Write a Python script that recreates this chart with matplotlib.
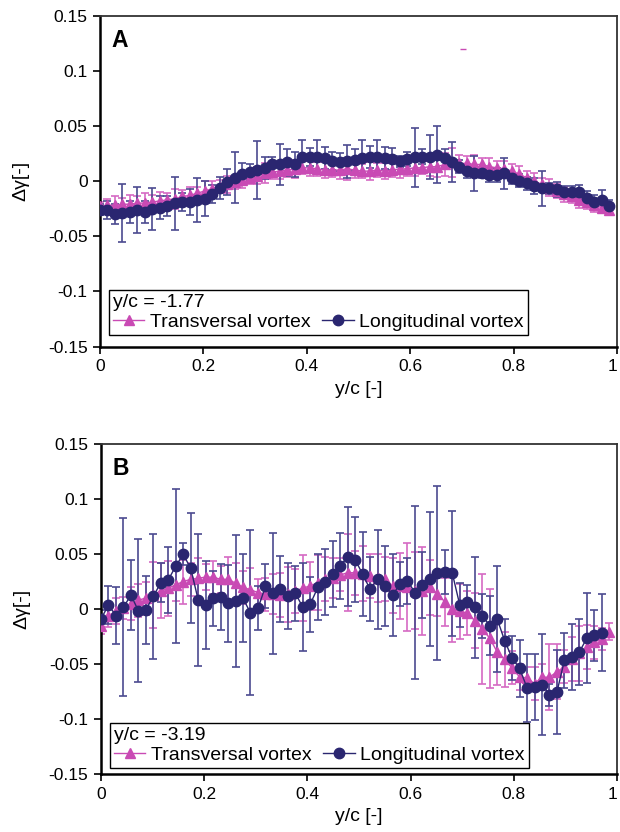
import numpy as np
import matplotlib
matplotlib.use("Agg")
import matplotlib.pyplot as plt

plt.rcParams['font.family'] = ['Liberation Sans', 'DejaVu Sans']

# Grille de positions (y/c)
x_a = np.linspace(0, 0.985, 69)
x_b_trans = np.linspace(0, 0.985, 69)
x_b_long = x_b_trans[:68]

# Panneau A : y/c = -1.77
a_trans = [-0.023, -0.022, -0.022, -0.021, -0.021, -0.020, -0.020, -0.019, -0.018, -0.017,
           -0.016, -0.014, -0.013, -0.011, -0.009, -0.007, -0.005, -0.003, -0.001, 0.001,
           0.003, 0.005, 0.007, 0.008, 0.009, 0.010, 0.011, 0.012, 0.012, 0.011,
           0.010, 0.010, 0.010, 0.011, 0.010, 0.009, 0.009, 0.010, 0.009, 0.010,
           0.011, 0.011, 0.012, 0.012, 0.013, 0.013, 0.015, 0.017, 0.016, 0.016,
           0.015, 0.015, 0.013, 0.012, 0.011, 0.009, 0.006, 0.003, 0.000, -0.003,
           -0.006, -0.009, -0.012, -0.014, -0.017, -0.019, -0.022, -0.024, -0.026]
a_trans_err = [0.004, 0.006, 0.008, 0.006, 0.008, 0.006, 0.009, 0.006, 0.008, 0.006,
               0.009, 0.006, 0.008, 0.006, 0.009, 0.007, 0.006, 0.008, 0.006, 0.007,
               0.006, 0.008, 0.009, 0.006, 0.007, 0.006, 0.008, 0.006, 0.007, 0.006,
               0.007, 0.006, 0.008, 0.010, 0.007, 0.006, 0.008, 0.006, 0.007, 0.006,
               0.008, 0.006, 0.007, 0.006, 0.008, 0.009, 0.010, 0.013, 0.008, 0.007,
               0.009, 0.006, 0.008, 0.006, 0.007, 0.006, 0.008, 0.006, 0.007, 0.006,
               0.008, 0.006, 0.007, 0.006, 0.007, 0.006, 0.006, 0.005, 0.005]
a_long = [-0.026, -0.026, -0.030, -0.029, -0.028, -0.026, -0.028, -0.025, -0.024, -0.023,
          -0.020, -0.019, -0.019, -0.017, -0.016, -0.012, -0.006, -0.001, 0.003, 0.006,
          0.008, 0.010, 0.012, 0.015, 0.015, 0.017, 0.015, 0.022, 0.022, 0.022,
          0.021, 0.018, 0.017, 0.018, 0.019, 0.021, 0.022, 0.022, 0.021, 0.020,
          0.018, 0.020, 0.0215, 0.022, 0.022, 0.024, 0.021, 0.017, 0.013, 0.009,
          0.007, 0.0075, 0.0055, 0.0055, 0.007, 0.0025, 0.0003, -0.002, -0.0045, -0.0067,
          -0.0067, -0.0076, -0.0097, -0.0097, -0.0097, -0.015, -0.019, -0.017, -0.023]
a_long_err = [0.005, 0.008, 0.009, 0.026, 0.010, 0.021, 0.010, 0.019, 0.010, 0.009,
              0.024, 0.008, 0.012, 0.020, 0.016, 0.008, 0.010, 0.012, 0.023, 0.010,
              0.007, 0.026, 0.010, 0.007, 0.019, 0.012, 0.011, 0.015, 0.008, 0.015,
              0.010, 0.008, 0.008, 0.015, 0.010, 0.016, 0.010, 0.015, 0.010, 0.010,
              0.005, 0.006, 0.027, 0.007, 0.020, 0.026, 0.008, 0.018, 0.006, 0.006,
              0.016, 0.005, 0.006, 0.006, 0.014, 0.005, 0.006, 0.006, 0.007, 0.016,
              0.005, 0.007, 0.005, 0.005, 0.006, 0.006, 0.006, 0.009, 0.006]
a_stray_x = [0.702]
a_stray_y = [0.12]

# Panneau B : y/c = -3.19
b_trans = [-0.015, -0.006, -0.002, 0.001, 0.005, 0.008, 0.010, 0.013, 0.0165, 0.019,
           0.022, 0.025, 0.027, 0.028, 0.029, 0.029, 0.027, 0.027, 0.0235, 0.0196,
           0.0175, 0.015, 0.0135, 0.0135, 0.0125, 0.0135, 0.0165, 0.019, 0.021, 0.024,
           0.027, 0.028, 0.031, 0.033, 0.033, 0.032, 0.030, 0.028, 0.027, 0.021,
           0.021, 0.0196, 0.0165, 0.0165, 0.0196, 0.0136, 0.0066, 0.000, -0.002, -0.0036,
           -0.0105, -0.018, -0.0265, -0.039, -0.0458, -0.0536, -0.0618, -0.0627, -0.068, -0.062,
           -0.062, -0.057, -0.0527, -0.045, -0.040, -0.0346, -0.030, -0.027, -0.0205]
b_trans_err = [0.008, 0.010, 0.012, 0.010, 0.015, 0.015, 0.015, 0.030, 0.025, 0.025,
               0.015, 0.020, 0.015, 0.018, 0.012, 0.015, 0.012, 0.020, 0.018, 0.015,
               0.020, 0.012, 0.015, 0.018, 0.020, 0.025, 0.020, 0.030, 0.022, 0.025,
               0.020, 0.018, 0.015, 0.035, 0.020, 0.025, 0.020, 0.022, 0.020, 0.025,
               0.030, 0.040, 0.035, 0.040, 0.025, 0.020, 0.022, 0.030, 0.025, 0.020,
               0.025, 0.050, 0.045, 0.030, 0.025, 0.015, 0.012, 0.010, 0.015, 0.012,
               0.030, 0.025, 0.015, 0.020, 0.025, 0.020, 0.015, 0.010, 0.008]
b_long = [-0.009, 0.0036, -0.006, 0.0015, 0.0127, -0.0015, -0.0006, 0.0115, 0.024, 0.0265,
          0.039, 0.0497, 0.037, 0.0084, 0.0036, 0.0097, 0.0106, 0.0054, 0.0075, 0.0097,
          -0.0036, 0.0006, 0.0205, 0.0145, 0.018, 0.0115, 0.0145, 0.0015, 0.0045, 0.0196,
          0.0247, 0.0316, 0.039, 0.0476, 0.045, 0.0316, 0.018, 0.027, 0.021, 0.0127,
          0.0226, 0.0256, 0.015, 0.0217, 0.027, 0.0325, 0.0337, 0.0325, 0.0036, 0.0066,
          0.0015, -0.006, -0.015, -0.009, -0.0287, -0.0446, -0.054, -0.0717, -0.0708, -0.0687,
          -0.0778, -0.0753, -0.0467, -0.0437, -0.039, -0.0265, -0.024, -0.0217]
b_long_err = [0.008, 0.017, 0.026, 0.081, 0.032, 0.065, 0.031, 0.057, 0.018, 0.030,
              0.070, 0.010, 0.050, 0.060, 0.040, 0.025, 0.030, 0.035, 0.060, 0.040,
              0.075, 0.020, 0.020, 0.055, 0.030, 0.030, 0.025, 0.040, 0.025, 0.030,
              0.030, 0.030, 0.030, 0.045, 0.039, 0.038, 0.029, 0.045, 0.036, 0.037,
              0.020, 0.021, 0.079, 0.030, 0.061, 0.079, 0.020, 0.057, 0.020, 0.015,
              0.046, 0.020, 0.027, 0.048, 0.020, 0.020, 0.026, 0.031, 0.030, 0.046,
              0.010, 0.038, 0.025, 0.030, 0.030, 0.041, 0.023, 0.035]

y_ticks = [-0.15, -0.1, -0.05, 0, 0.05, 0.1, 0.15]
y_tick_labels = ['-0.15', '-0.1', '-0.05', '0', '0.05', '0.1', '0.15']
x_ticks = [0, 0.2, 0.4, 0.6, 0.8, 1]
x_tick_labels = ['0', '0.2', '0.4', '0.6', '0.8', '1']

MAGENTA = '#C94AB4'
MAGENTA_ERR = '#D56AC4'
NAVY = '#2A2670'
NAVY_ERR = '#4C4A90'


def tracer_panneau(ax, x_t, t, t_err, x_l, l, l_err, lettre, titre_legende, legende_pos):
    ax.errorbar(x_t, t, yerr=t_err, fmt='none', ecolor=MAGENTA_ERR, elinewidth=1.2,
                capsize=3, capthick=1.2, zorder=2)
    ax.errorbar(x_l, l, yerr=l_err, fmt='none', ecolor=NAVY_ERR, elinewidth=1.2,
                capsize=3, capthick=1.2, zorder=2)
    ax.plot(x_t, t, color=MAGENTA, marker='^', markersize=7, lw=1,
            label='Transversal vortex', zorder=3)
    ax.plot(x_l, l, color=NAVY, marker='o', markersize=7.5, lw=1,
            label='Longitudinal vortex', zorder=4)

    ax.set_xlim(0, 1)
    ax.set_ylim(-0.15, 0.15)
    ax.set_xticks(x_ticks)
    ax.set_xticklabels(x_tick_labels)
    ax.get_xticklabels()[-1].set_horizontalalignment('right')
    ax.set_yticks(y_ticks)
    ax.set_yticklabels(y_tick_labels)
    ax.tick_params(direction='out', length=5, width=1.2, labelsize=12.5, pad=4)
    ax.set_xlabel('y/c [-]', fontsize=14, labelpad=5)
    ax.set_ylabel('Δγ[-]', fontsize=14, labelpad=13)
    for s in ['left', 'bottom']:
        ax.spines[s].set_linewidth(1.8)
        ax.spines[s].set_color('black')
    for s in ['top', 'right']:
        ax.spines[s].set_linewidth(1.3)
        ax.spines[s].set_color('#333333')

    ax.text(0.022, 0.96, lettre, transform=ax.transAxes, fontsize=16.5,
            fontweight='bold', va='top', ha='left')

    leg = ax.legend(loc='lower left', bbox_to_anchor=legende_pos, ncol=2,
                    title=titre_legende, title_fontsize=14, fontsize=14,
                    frameon=True, fancybox=False, framealpha=1, edgecolor='black',
                    borderaxespad=0, borderpad=0.2, handlelength=1.6,
                    handletextpad=0.3, columnspacing=0.6, labelspacing=0.15,
                    alignment='left')
    leg.get_frame().set_linewidth(1.0)


fig = plt.figure(figsize=(6.2, 8.32), dpi=100)
ax_a = fig.add_axes([0.1613, 0.5835, 0.8339, 0.3978])
ax_b = fig.add_axes([0.1629, 0.0697, 0.8323, 0.3966])

tracer_panneau(ax_a, x_a, a_trans, a_trans_err, x_a, a_long, a_long_err,
               'A', 'y/c = -1.77', (0.018, 0.035))
ax_a.plot(a_stray_x, a_stray_y, marker='_', color=MAGENTA, markersize=4, lw=0)

tracer_panneau(ax_b, x_b_trans, b_trans, b_trans_err, x_b_long, b_long, b_long_err,
               'B', 'y/c = -3.19', (0.018, 0.018))

fig.savefig('out.png', dpi=100)
